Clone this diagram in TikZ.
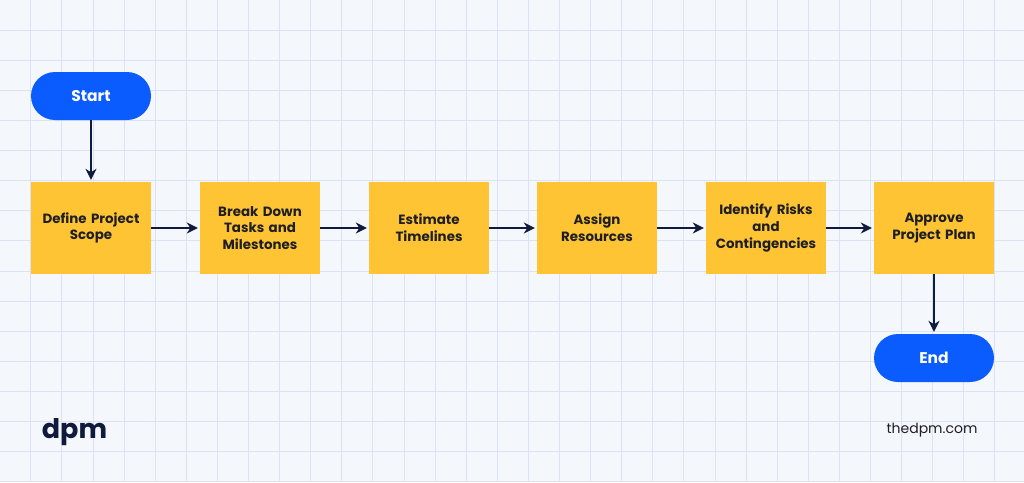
\documentclass[tikz,border=0pt]{standalone}
\usepackage{fontspec}
\setmainfont{Poppins}
\usetikzlibrary{arrows.meta, positioning}
\definecolor{pagebg}{HTML}{F4F7FB}
\definecolor{gridline}{HTML}{DBE2F2}
\definecolor{termblue}{HTML}{0B5CFF}
\definecolor{stepyellow}{HTML}{FFC433}
\definecolor{navy}{HTML}{101A3C}
\definecolor{stepink}{HTML}{1E1E24}

\begin{document}
\begin{tikzpicture}[x=1pt, y=-1pt,
    stepbox/.style={rectangle, fill=stepyellow, minimum width=120pt, minimum height=92pt,
        inner sep=0pt, text width=116pt, align=center, text=stepink,
        font=\fontsize{13.4}{16.7}\selectfont\bfseries},
    terminal/.style={rectangle, rounded corners=24pt, fill=termblue, minimum width=120pt,
        minimum height=48pt, inner sep=0pt, text=white,
        font=\fontsize{15.5}{18}\selectfont\bfseries},
    flow/.style={draw=navy, line width=1.5pt,
        -{Stealth[length=11pt, width=11pt, inset=3.5pt]}, shorten >=2pt}]

    % Background and grid
    \fill[pagebg] (0,0) rectangle (1024,482);
    \useasboundingbox (0,0) rectangle (1024,482);
    \foreach \gx in {0,...,32}
        \draw[gridline, line width=0.8pt] (30.7+31.1*\gx,0) -- (30.7+31.1*\gx,482);
    \foreach \gy in {0,...,15}
        \draw[gridline, line width=0.8pt] (0,30+30.12*\gy) -- (1024,30+30.12*\gy);

    % Nodes
    \node[terminal] (start) at (91,96) {Start};
    \node[stepbox] (scope) at (91,228) {Define Project\\Scope};
    \node[stepbox] (tasks) at (260,228) {Break Down\\Tasks and\\Milestones};
    \node[stepbox] (times) at (429,228) {Estimate\\Timelines};
    \node[stepbox] (assign) at (597,228) {Assign\\Resources};
    \node[stepbox] (risks) at (766,228) {Identify Risks\\and\\Contingencies};
    \node[stepbox] (approve) at (934,228) {Approve\\Project Plan};
    \node[terminal] (end) at (934,358) {End};

    % Branding
    \node[text=navy, font=\fontsize{27}{27}\selectfont\bfseries, inner sep=0pt] (logo) at (74.5,432) {dpm};
    \node[text=stepink, font=\fontsize{14}{14}\selectfont, inner sep=0pt] (site) at (932,430) {thedpm.com};

    % Edges
    \draw[flow] (start) -- (scope);
    \draw[flow] (scope) -- (tasks);
    \draw[flow] (tasks) -- (times);
    \draw[flow] (times) -- (assign);
    \draw[flow] (assign) -- (risks);
    \draw[flow] (risks) -- (approve);
    \draw[flow] (approve) -- (end);

\end{tikzpicture}
\end{document}
